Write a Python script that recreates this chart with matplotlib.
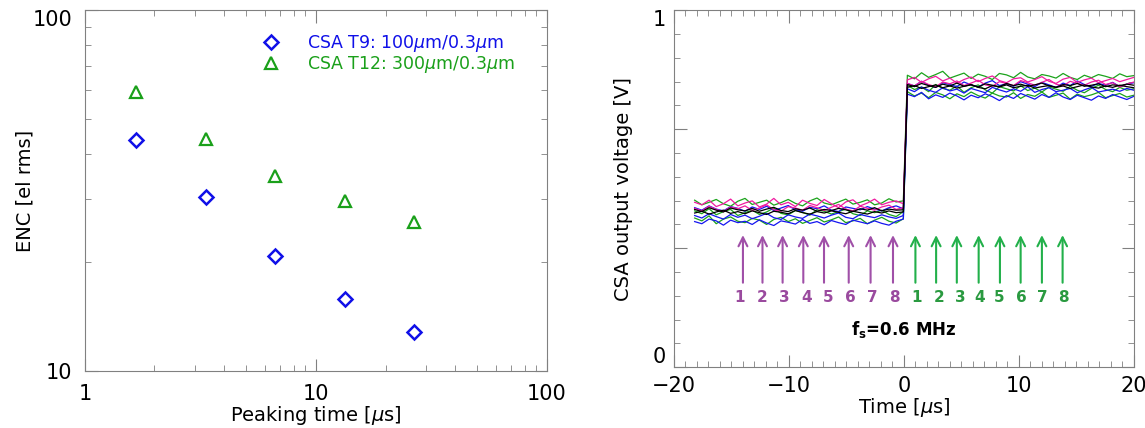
import numpy as np
import matplotlib
matplotlib.use("Agg")
import matplotlib.pyplot as plt
from matplotlib.ticker import FixedLocator, NullFormatter, LogLocator, MultipleLocator

# ---- left panel: ENC vs peaking time ----
peaking_time = [1.67, 3.33, 6.67, 13.3, 26.7]
enc_t9 = [43.7, 30.4, 20.9, 15.8, 12.8]
enc_t12 = [59.5, 44.0, 34.8, 29.7, 25.9]
label_t9 = r'CSA T9: 100$\mu$m/0.3$\mu$m'
label_t12 = r'CSA T12: 300$\mu$m/0.3$\mu$m'

# ---- right panel: CSA output traces (mV) ----
t_pre = np.linspace(-18.2, -0.05, 30)
t_post = np.linspace(0.3, 20.0, 33)

magenta_pre = [
    [462, 455, 468, 450, 458, 471, 452, 460, 466, 449, 457, 473, 455, 462, 450, 468, 459, 453, 470, 458, 447, 463, 469, 452, 460, 471, 455, 462, 466, 458],
    [445, 438, 451, 442, 436, 449, 444, 452, 439, 446, 455, 441, 437, 450, 446, 440, 453, 447, 439, 448, 456, 443, 438, 451, 445, 440, 449, 454, 442, 447],
]
green_pre = [
    [468, 455, 462, 470, 458, 451, 465, 473, 456, 462, 468, 454, 461, 470, 459, 452, 466, 474, 460, 455, 463, 471, 457, 462, 469, 455, 460, 472, 463, 466],
    [438, 430, 444, 427, 436, 442, 425, 433, 440, 428, 435, 446, 431, 427, 439, 434, 426, 441, 437, 429, 436, 443, 430, 425, 438, 433, 440, 428, 422, 436],
    [418, 410, 424, 402, 415, 421, 409, 405, 417, 412, 400, 414, 420, 408, 416, 403, 411, 419, 407, 413, 421, 405, 410, 417, 402, 412, 420, 409, 404, 416],
]
blue_pre = [
    [447, 440, 452, 443, 438, 450, 445, 437, 449, 442, 451, 439, 446, 453, 441, 437, 448, 444, 452, 440, 436, 449, 445, 441, 450, 443, 438, 447, 452, 444],
    [425, 418, 430, 422, 415, 428, 420, 426, 416, 423, 431, 419, 414, 427, 421, 417, 429, 424, 418, 426, 432, 420, 416, 428, 423, 419, 427, 421, 417, 425],
    [408, 402, 415, 410, 398, 412, 405, 409, 400, 413, 404, 397, 410, 406, 401, 414, 403, 408, 399, 411, 405, 400, 412, 407, 402, 410, 403, 398, 409, 415],
]
black_pre = [
    [442, 436, 447, 440, 435, 446, 441, 438, 445, 437, 443, 448, 439, 436, 444, 440, 446, 437, 442, 439, 445, 441, 436, 444, 440, 447, 438, 443, 440, 441],
    [432, 437, 429, 435, 440, 431, 436, 430, 438, 433, 428, 437, 434, 430, 439, 433, 429, 436, 432, 438, 434, 430, 437, 433, 429, 436, 432, 438, 433, 435],
]

magenta_post = [
    [805, 812, 798, 808, 815, 802, 810, 796, 806, 813, 800, 809, 816, 803, 797, 808, 811, 799, 806, 814, 801, 795, 807, 812, 798, 805, 810, 797, 803, 809, 800, 806, 812],
    [795, 788, 801, 792, 786, 799, 794, 802, 789, 796, 804, 791, 787, 800, 795, 789, 803, 797, 790, 798, 806, 793, 788, 801, 795, 790, 799, 804, 792, 797, 785, 793, 799],
]
green_post = [
    [818, 808, 825, 812, 820, 829, 810, 817, 824, 809, 821, 815, 806, 823, 819, 811, 826, 813, 808, 820, 816, 810, 823, 812, 806, 818, 811, 820, 815, 809, 822, 814, 817],
    [790, 778, 785, 772, 792, 781, 776, 788, 770, 783, 791, 777, 768, 786, 780, 774, 789, 775, 782, 771, 785, 779, 773, 787, 776, 769, 781, 790, 778, 772, 784, 776, 780],
    [772, 760, 768, 755, 770, 763, 752, 766, 758, 771, 761, 754, 768, 760, 757, 769, 753, 764, 759, 771, 756, 762, 768, 751, 765, 758, 763, 770, 755, 761, 767, 757, 762],
]
blue_post = [
    [795, 788, 801, 790, 784, 797, 792, 786, 799, 791, 785, 796, 803, 789, 794, 787, 800, 793, 786, 798, 791, 784, 796, 789, 802, 792, 787, 795, 790, 798, 786, 793, 797],
    [780, 772, 785, 776, 770, 783, 774, 779, 768, 781, 775, 769, 784, 777, 771, 780, 773, 786, 770, 778, 783, 772, 776, 781, 769, 777, 784, 771, 775, 779, 773, 781, 776],
    [765, 758, 770, 752, 763, 756, 768, 760, 749, 762, 755, 766, 758, 747, 761, 753, 767, 759, 751, 764, 756, 769, 757, 750, 762, 755, 748, 760, 753, 764, 757, 750, 759],
]
black_post = [
    [792, 786, 795, 789, 784, 793, 788, 796, 787, 791, 785, 794, 790, 786, 795, 789, 793, 787, 791, 796, 788, 784, 792, 789, 795, 787, 790, 794, 786, 791, 789, 793, 790],
    [784, 789, 781, 786, 791, 783, 788, 782, 787, 792, 784, 780, 789, 785, 791, 783, 787, 790, 782, 786, 789, 784, 788, 781, 786, 791, 785, 782, 788, 784, 790, 786, 783],
]

# sampling instants (arrows) and labels
purple_pos = [-14.0, -12.3, -10.55, -8.75, -6.95, -4.8, -2.9, -0.95]
green_pos = [1.0, 2.8, 4.6, 6.5, 8.35, 10.15, 12.0, 13.8]
purple_lab_pos = [-14.27, -12.35, -10.43, -8.50, -6.58, -4.63, -2.71, -0.79]
green_lab_pos = [1.10, 3.08, 4.88, 6.62, 8.32, 10.18, 12.07, 13.90]
sample_labels = ['1', '2', '3', '4', '5', '6', '7', '8']

spine_col = '#808080'

fig = plt.figure(figsize=(11.45, 4.28), dpi=100)
ax1 = fig.add_axes([0.0742, 0.133, 0.4035, 0.843])
ax2 = fig.add_axes([0.5886, 0.142, 0.4017, 0.834])

for ax in (ax1, ax2):
    for s in ax.spines.values():
        s.set_color(spine_col)
    ax.tick_params(which='both', direction='in', top=True, right=True, color=spine_col, labelsize=15)
    ax.tick_params(which='major', length=9)
    ax.tick_params(which='minor', length=4.5)

# left
ax1.set_xscale('log')
ax1.set_yscale('log')
ax1.plot(peaking_time, enc_t9, linestyle='none', marker='D', markersize=7, markerfacecolor='none',
         markeredgecolor='#1010E8', markeredgewidth=1.8, label=label_t9)
ax1.plot(peaking_time, enc_t12, linestyle='none', marker='^', markersize=8, markerfacecolor='none',
         markeredgecolor='#1AA01A', markeredgewidth=1.6, label=label_t12)
ax1.set_xlim(1, 100)
ax1.set_ylim(10, 100)
ax1.xaxis.set_major_locator(FixedLocator([1, 10, 100]))
ax1.yaxis.set_major_locator(FixedLocator([10, 100]))
ax1.xaxis.set_major_formatter(plt.FuncFormatter(lambda v, p: '%d' % v))
ax1.yaxis.set_major_formatter(plt.FuncFormatter(lambda v, p: '%d' % v))
ax1.xaxis.set_minor_locator(LogLocator(subs=np.arange(2, 10)))
ax1.yaxis.set_minor_locator(LogLocator(subs=np.arange(2, 10)))
ax1.xaxis.set_minor_formatter(NullFormatter())
ax1.yaxis.set_minor_formatter(NullFormatter())
ax1.tick_params(axis='x', which='major', pad=9)
ax1.tick_params(axis='y', which='major', pad=9)
ax1.set_xlabel(r'Peaking time [$\mu$s]', fontsize=14, labelpad=0)
ax1.set_ylabel('ENC [el rms]', fontsize=14, labelpad=-1)
leg = ax1.legend(loc='upper left', bbox_to_anchor=(0.36, 0.955), frameon=False, fontsize=12.5,
                 handletextpad=1.3, labelspacing=0.0, borderaxespad=0, handlelength=1.5)
leg.get_texts()[0].set_color('#1010E8')
leg.get_texts()[1].set_color('#1AA01A')

# right
for grp_pre, grp_post, col in [(green_pre, green_post, '#1BA31B'),
                               (blue_pre, blue_post, '#1515F0'),
                               (magenta_pre, magenta_post, '#F01BA0'),
                               (black_pre, black_post, '#000000')]:
    for pre, post in zip(grp_pre, grp_post):
        tt = np.concatenate([t_pre, t_post])
        vv = np.concatenate([pre, post]) / 1000.0
        ax2.plot(tt, vv, color=col, lw=0.9)

for x in purple_pos:
    ax2.annotate('', xy=(x, 0.378), xytext=(x, 0.229),
                 arrowprops=dict(arrowstyle='->', color='#A050A8', lw=1.5, mutation_scale=16))
for x in green_pos:
    ax2.annotate('', xy=(x, 0.378), xytext=(x, 0.229),
                 arrowprops=dict(arrowstyle='->', color='#22B04A', lw=1.5, mutation_scale=16))
for x, s in zip(purple_lab_pos, sample_labels):
    ax2.text(x, 0.196, s, color='#9A4A9E', fontsize=11, fontweight='bold', ha='center', va='center')
for x, s in zip(green_lab_pos, sample_labels):
    ax2.text(x, 0.196, s, color='#2A9A40', fontsize=11, fontweight='bold', ha='center', va='center')
ax2.text(0, 0.107, r'$\mathbf{f_s}$=0.6 MHz', fontsize=12, fontweight='bold', ha='center', va='center')

ax2.set_xlim(-20, 20)
ax2.set_ylim(0, 1)
ax2.xaxis.set_major_locator(MultipleLocator(10))
ax2.xaxis.set_minor_locator(MultipleLocator(1))
ax2.yaxis.set_major_locator(FixedLocator([0, 1 / 3, 2 / 3, 1]))
ax2.yaxis.set_minor_locator(FixedLocator(np.arange(0, 16) / 15))
ax2.yaxis.set_major_formatter(plt.FuncFormatter(lambda v, p: '%d' % round(v) if abs(v - round(v)) < 1e-6 else ''))
ax2.xaxis.set_major_formatter(plt.FuncFormatter(lambda v, p: '\u2212%d' % -v if v < 0 else '%d' % v))
ax2.tick_params(axis='x', which='major', pad=6)
ax2.tick_params(axis='y', which='major', pad=6)
ax2.set_xlabel(r'Time [$\mu$s]', fontsize=14, labelpad=0)
ax2.set_ylabel('CSA output voltage [V]', fontsize=14, labelpad=14)

# IDL-style: end labels sit inside the axis range
yt2 = ax2.yaxis.get_major_ticks()
yt2[0].label1.set_verticalalignment('bottom')
yt2[-1].label1.set_verticalalignment('top')
yt1 = ax1.yaxis.get_major_ticks()
yt1[-1].label1.set_verticalalignment('top')

fig.savefig('out.png', dpi=100)
